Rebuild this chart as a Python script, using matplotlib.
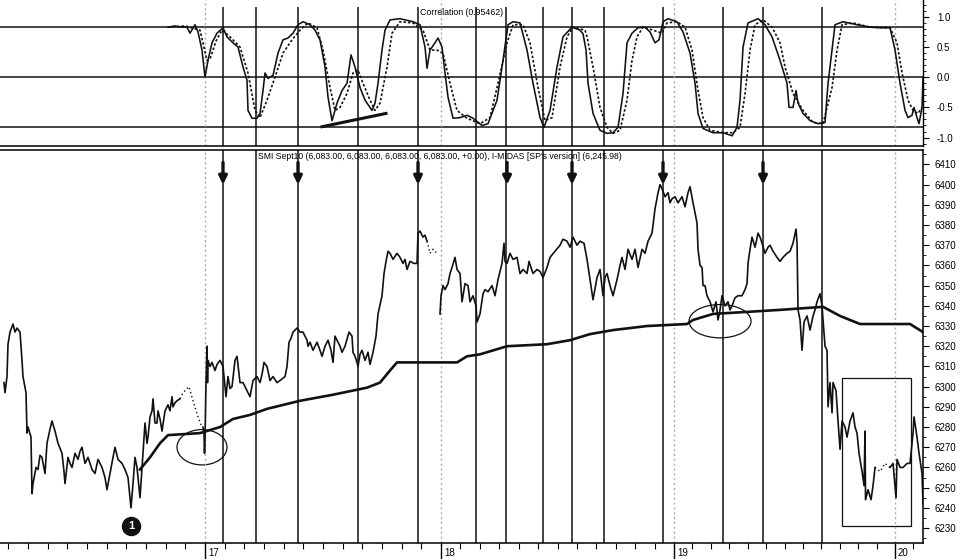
import numpy as np
import matplotlib.pyplot as plt
from matplotlib.patches import Ellipse
from matplotlib.ticker import MultipleLocator

plt.rcParams['font.family'] = ['Liberation Sans', 'DejaVu Sans']

# x = bar index (intraday)
day_pos = [205, 441, 674, 895]
day_labels = ['17', '18', '19', '20']
cycle_lines = [223, 256, 298, 358, 418, 476, 506, 543, 572, 604, 663, 723, 763, 822]
arrow_pos = [223, 298, 418, 507, 572, 663, 763]

# SMI Sept10 price (nan = gap in session)
price_t = [4, 5, 7, 8, 10, 13, 15, 17, 20, 22, 23, 26, 27, 28, 31, 32, 33, 36, 38, 40, 42, 45, 47, 50,
           52, 55, 58, 62, 64, 65, 68, 70, 72, 75, 78, 80, 82, 85, 88, 90, 92, 95, 98, 102, 105, 107,
           110, 113, 115, 118, 122, 125, 128, 131, 133, 135, 137, 140, 142, 144, 145, 147, 148, 150,
           152, 153, 155, 157, 158, 160, 162, 165, 168, 170, 172, 173, 175, 177, 180, np.nan,
           203, 204, 204.5, 205, 206, 207, 207.5, 208, 210, 212, 215, 217, 220, 223, 226, 228, 230,
           232, 235, 237, 240, 243, 245, 247, 250, 253, 257, 260, 262, 264, 267, 270, 273, 277, 280,
           285, 287, 289, 291, 293, 297, 300, 303, 305, 307, 308, 310, 313, 317, 320, 322, 325, 328,
           331, 333, 335, 338, 340, 342, 345, 349, 352, 353, 355, 357, 358, 360, 362, 365, 368, 370,
           373, 376, 378, 382, 384, 386, 388, 390, 393, 397, 400, 403, 405, 407, 410, 414, 417, 418,
           420, 423, 425, 427, np.nan,
           440, 441, 443, 445, 448, 450, 452, 455, 457, 460, 462, 465, 468, 470, 473, 476, 477, 480,
           483, 485, 488, 492, 495, 498, 502, 504, 505, 507, 510, 513, 517, 520, 523, 527, 529, 533,
           537, 540, 543, 547, 550, 555, 560, 563, 567, 570, 573, 577, 580, 584, 587, 590, 593, 597,
           600, 603, 605, 607, 610, 613, 617, 620, 622, 625, 628, 632, 635, 638, 642, 645, 648, 652,
           655, 658, 660, 662, 665, 668, 670, 672, 675, 678, 682, 685, 688, 690, 693, 697, 698, 700,
           702, 703, 705, 707, 710, 713, 716, 718, 720, 722, 725, 728, 730, 732, 735, 738, 742, 745,
           747, 748, 750, 752, 755, 758, 760, 762, 765, 768, 770, 773, 777, 780, 783, 787, 790, 793,
           796, 797, 798, 800, 802, 804, 807, 810, 813, 815, 817, 820, 822, 823, 825, 827, 828, 830,
           832, 833, 836, 838, 840, 842, 845, 847, 850, 853, 855, 857, 859, 862, 864, 865, 865.5, 866,
           868, 871, 873, 875, np.nan,
           890, 893, 896, 897, 900, 903, 907, 910, 913, 914, 917, 919, 922, 923]
price_v = [6302, 6297, 6305, 6321, 6327, 6331, 6327, 6329, 6327, 6313, 6305, 6297, 6277, 6280, 6275,
           6247, 6252, 6260, 6259, 6266, 6265, 6257, 6272, 6279, 6283, 6278, 6272, 6267, 6258, 6252,
           6265, 6262, 6260, 6267, 6264, 6268, 6270, 6262, 6265, 6262, 6259, 6257, 6264, 6260, 6255,
           6249, 6257, 6265, 6270, 6264, 6262, 6259, 6255, 6240, 6252, 6265, 6260, 6245, 6260, 6275,
           6282, 6272, 6275, 6285, 6288, 6294, 6282, 6282, 6288, 6284, 6278, 6288, 6291, 6288, 6295,
           6290, 6292, 6293, 6294, np.nan,
           6280, 6277, 6267, 6274, 6302, 6320, 6302, 6313, 6310, 6312, 6308, 6311, 6313, 6310, 6295,
           6305, 6299, 6300, 6313, 6315, 6302, 6302, 6300, 6298, 6295, 6303, 6305, 6302, 6306, 6312,
           6310, 6303, 6305, 6302, 6303, 6305, 6310, 6322, 6324, 6327, 6329, 6327, 6327, 6325, 6323,
           6320, 6322, 6318, 6322, 6318, 6315, 6320, 6323, 6318, 6312, 6325, 6322, 6320, 6317, 6320,
           6327, 6325, 6317, 6315, 6312, 6310, 6316, 6318, 6313, 6317, 6311, 6317, 6325, 6336, 6345,
           6356, 6362, 6367, 6366, 6363, 6366, 6364, 6361, 6363, 6358, 6362, 6361, 6361, 6376, 6377,
           6374, 6375, 6372, np.nan,
           6336, 6345, 6350, 6348, 6351, 6356, 6359, 6364, 6358, 6356, 6342, 6351, 6350, 6342, 6345,
           6340, 6332, 6336, 6346, 6348, 6347, 6350, 6345, 6353, 6361, 6371, 6362, 6361, 6366, 6363,
           6364, 6356, 6358, 6356, 6362, 6356, 6358, 6357, 6354, 6359, 6364, 6367, 6370, 6373, 6372,
           6369, 6374, 6370, 6372, 6371, 6363, 6353, 6343, 6354, 6358, 6345, 6354, 6356, 6350, 6345,
           6353, 6360, 6364, 6358, 6368, 6363, 6368, 6359, 6368, 6366, 6372, 6376, 6388, 6396, 6400,
           6398, 6394, 6396, 6391, 6393, 6394, 6391, 6394, 6389, 6396, 6399, 6391, 6381, 6368, 6360,
           6359, 6350, 6350, 6345, 6342, 6337, 6342, 6333, 6338, 6345, 6340, 6342, 6338, 6340, 6344,
           6345, 6345, 6348, 6351, 6361, 6368, 6374, 6369, 6376, 6374, 6371, 6366, 6369, 6370, 6367,
           6364, 6362, 6364, 6366, 6367, 6371, 6378, 6371, 6338, 6333, 6318, 6332, 6335, 6328, 6335,
           6338, 6342, 6346, 6340, 6333, 6320, 6318, 6290, 6302, 6287, 6302, 6298, 6283, 6269, 6283,
           6280, 6275, 6283, 6287, 6280, 6277, 6267, 6258, 6251, 6278, 6244, 6245, 6249, 6244, 6251,
           6260, np.nan,
           6260, 6262, 6245, 6264, 6260, 6260, 6262, 6262, 6277, 6285, 6275, 6267, 6257, 6242]

# thin dotted price stretches (no trades)
dot_t = [180, 183, 189, 193, 198, 202, np.nan, 427, 430, 433, 437, np.nan, 875, 880, 885, 890]
dot_v = [6294, 6297, 6300, 6293, 6285, 6280, np.nan, 6372, 6366, 6368, 6366, np.nan, 6260, 6258, 6262, 6260]

# I-MIDAS support line
midas_t = [140, 150, 160, 168, 200, 220, 233, 250, 267, 300, 333, 367, 380, 390, 397, 433, 457, 467,
           480, 507, 547, 570, 590, 613, 647, 687, 693, 713, 747, 780, 823, 840, 860, 910, 923]
midas_v = [6259, 6265, 6272, 6276, 6277, 6280, 6284, 6286, 6289, 6293, 6296, 6299.5, 6302, 6308, 6312,
           6312, 6312, 6315, 6316, 6320, 6321, 6323, 6326, 6328, 6330, 6331, 6333, 6336, 6337, 6338,
           6339.5, 6335, 6331, 6331, 6327]

# correlation, solid and dotted (lagged)
corr_t = [168, 175, 180, 187, 190, 195, 198, 202, 205, 208, 212, 217, 223, 227, 233, 238, 243, 247, 248,
          252, 257, 260, 263, 265, 268, 273, 278, 283, 288, 293, 298, 303, 310, 315, 320, 325, 328, 332,
          337, 342, 347, 351, 355, 360, 365, 372, 375, 378, 382, 385, 390, 400, 413, 420, 425, 427, 430,
          435, 438, 442, 445, 448, 453, 460, 467, 473, 482, 488, 497, 503, 508, 513, 520, 527, 533, 540,
          544, 550, 557, 563, 572, 580, 583, 586, 588, 593, 600, 607, 613, 618, 623, 627, 632, 638, 645,
          650, 655, 659, 663, 668, 677, 683, 690, 695, 698, 703, 713, 723, 732, 737, 740, 743, 748, 758,
          765, 772, 780, 787, 789, 793, 796, 798, 803, 810, 818, 825, 828, 832, 835, 843, 857, 870, 880,
          890, 895, 900, 905, 908, 912, 914, 917, 919, 922, 923]
corr_v = [0.83, 0.85, 0.83, 0.83, 0.73, 0.87, 0.75, 0.45, 0.0, 0.28, 0.57, 0.73, 0.82, 0.67, 0.57, 0.5,
          0.17, -0.05, -0.55, -0.68, -0.68, -0.6, -0.22, 0.07, -0.02, 0.03, 0.4, 0.62, 0.65, 0.73, 0.87,
          0.92, 0.87, 0.78, 0.62, 0.17, -0.33, -0.72, -0.43, -0.22, -0.1, 0.37, 0.17, -0.17, -0.38, -0.55,
          -0.43, -0.1, 0.45, 0.78, 0.95, 0.97, 0.92, 0.87, 0.5, 0.15, 0.45, 0.57, 0.65, 0.5, 0.07, -0.33,
          -0.68, -0.67, -0.63, -0.68, -0.8, -0.77, -0.38, 0.28, 0.87, 0.92, 0.9, 0.45, -0.1, -0.67, -0.83,
          -0.55, 0.17, 0.67, 0.83, 0.78, 0.72, 0.45, -0.1, -0.6, -0.88, -0.93, -0.92, -0.83, -0.27, 0.57,
          0.73, 0.82, 0.83, 0.75, 0.57, 0.62, 0.92, 0.97, 0.92, 0.75, 0.4, -0.1, -0.6, -0.85, -0.92, -0.92,
          -0.97, -0.83, -0.38, 0.5, 0.9, 0.97, 0.87, 0.67, 0.28, -0.1, -0.5, -0.5, -0.22, -0.43, -0.6,
          -0.72, -0.77, -0.75, -0.1, 0.45, 0.87, 0.92, 0.87, 0.83, 0.82, 0.82, 0.45, -0.1, -0.55, -0.67,
          -0.63, -0.5, -0.67, -0.77, -0.5, 0.0]
lag_t = [168, 185, 200, 207, 210, 216, 222, 230, 240, 248, 255, 260, 267, 275, 283, 292, 300, 308, 317,
         323, 330, 335, 340, 347, 353, 358, 363, 370, 375, 380, 387, 392, 400, 413, 423, 430, 437, 443,
         450, 457, 467, 480, 490, 498, 507, 513, 523, 530, 538, 545, 552, 560, 567, 573, 585, 587, 593,
         600, 607, 613, 620, 627, 632, 637, 643, 653, 662, 667, 677, 685, 692, 698, 703, 710, 723, 733,
         740, 745, 750, 755, 763, 772, 780, 785, 793, 803, 813, 823, 832, 837, 842, 853, 870, 890, 897,
         902, 908, 913, 918, 922]
lag_v = [0.83, 0.85, 0.78, 0.28, 0.3, 0.6, 0.78, 0.67, 0.5, 0.07, -0.55, -0.67, -0.38, 0.0, 0.4, 0.62,
         0.78, 0.9, 0.82, 0.45, -0.17, -0.55, -0.5, -0.27, 0.07, 0.12, -0.1, -0.38, -0.55, -0.43, 0.17,
         0.73, 0.92, 0.9, 0.78, 0.45, 0.45, 0.4, -0.1, -0.55, -0.68, -0.77, -0.67, -0.1, 0.57, 0.87, 0.87,
         0.57, -0.17, -0.72, -0.67, 0.17, 0.67, 0.83, 0.78, 0.67, 0.17, -0.5, -0.83, -0.93, -0.88, -0.38,
         0.28, 0.67, 0.83, 0.78, 0.73, 0.9, 0.92, 0.83, 0.45, -0.22, -0.67, -0.88, -0.92, -0.92, -0.83,
         -0.27, 0.45, 0.87, 0.95, 0.83, 0.57, 0.17, -0.27, -0.55, -0.75, -0.77, -0.17, 0.45, 0.87, 0.9,
         0.83, 0.82, 0.57, 0.07, -0.38, -0.55, -0.6, -0.5]

ink = '#111111'

fig = plt.figure(figsize=(9.63, 5.59), dpi=100)
ax_c = fig.add_axes([0.0, 0.7388, 0.9585, 0.2612])
ax_p = fig.add_axes([0.0, 0.02862, 0.9585, 0.70218])

# ---- correlation panel ----
for lvl in [0.83, 0.0, -0.82]:
    ax_c.axhline(lvl, color=ink, lw=1.1)
for d in day_pos:
    ax_c.axvline(d, color='#aaaaaa', lw=1.0, ls=(0, (1.5, 2)))
ax_c.vlines(cycle_lines, -1.17, 1.17, color=ink, lw=1.1)
ax_c.plot(lag_t, lag_v, color=ink, lw=1.2, ls=(0, (1.5, 1.2)))
ax_c.plot(corr_t, corr_v, color=ink, lw=1.15)
ax_c.plot([322, 386], [-0.82, -0.6], color=ink, lw=2.2)
ax_c.text(462, 1.07, 'Correlation (0.95462)', ha='center', va='center', fontsize=6.3)

ax_c.yaxis.tick_right()
ax_c.set_yticks([1.0, 0.5, 0.0, -0.5, -1.0])
ax_c.set_yticklabels(['1.0', '0.5', '0.0', '-0.5', '-1.0'])
ax_c.yaxis.set_minor_locator(MultipleLocator(0.1))
ax_c.tick_params(axis='y', which='major', length=4, labelsize=7, pad=6)
ax_c.tick_params(axis='y', which='minor', length=2)
ax_c.tick_params(axis='x', which='both', length=0, labelbottom=False)
for s in ['top', 'left']:
    ax_c.spines[s].set_visible(False)
ax_c.spines['bottom'].set_linewidth(1.1)
ax_c.spines['right'].set_linewidth(1.0)
ax_c.set_xlim(0, 923)
ax_c.set_ylim(-1.14, 1.28)

# ---- price panel ----
for d in day_pos:
    ax_p.axvline(d, color='#aaaaaa', lw=1.0, ls=(0, (1.5, 2)))
for x in cycle_lines:
    ax_p.axvline(x, color=ink, lw=1.1)
for x in arrow_pos:
    ax_p.annotate('', xy=(x, 6400), xytext=(x, 6411),
                  arrowprops=dict(arrowstyle='-|>', color=ink, lw=2.4, mutation_scale=12,
                                  shrinkA=0, shrinkB=0))

ax_p.plot(price_t, price_v, color=ink, lw=1.2)
ax_p.plot(dot_t, dot_v, color=ink, lw=1.0, ls=(0, (1, 2)))
ax_p.plot(midas_t, midas_v, color=ink, lw=1.9)

ax_p.add_patch(Ellipse((202, 6270), 50, 17.5, fill=False, ec=ink, lw=0.9))
ax_p.add_patch(Ellipse((720, 6332.4), 62, 16.5, fill=False, ec=ink, lw=0.9))
ax_p.add_patch(plt.Rectangle((842, 6231.0), 69, 73.4, fill=False, ec=ink, lw=0.9))
ax_p.plot([131], [6230.8], 'o', color=ink, ms=13)
ax_p.text(131, 6230.8, '1', color='white', fontsize=8, fontweight='bold', ha='center', va='center')

ax_p.text(258, 6414, "SMI Sept10 (6,083.00, 6,083.00, 6,083.00, 6,083.00, +0.00), "
          "I-MIDAS [SP's version] (6,245.98)", ha='left', va='center', fontsize=6.2)

ax_p.yaxis.tick_right()
ax_p.set_yticks(np.arange(6230, 6411, 10))
ax_p.yaxis.set_minor_locator(MultipleLocator(5))
ax_p.tick_params(axis='y', which='major', length=4, labelsize=7, pad=4)
ax_p.tick_params(axis='y', which='minor', length=2)

# day ticks and hourly minor ticks
bounds = [-31] + day_pos + [1116]
minor = np.concatenate([np.linspace(a, b, 13)[1:-1] for a, b in zip(bounds[:-1], bounds[1:])])
minor = minor[(minor > 0) & (minor < 923)]
ax_p.set_xticks(day_pos)
ax_p.set_xticklabels([])
ax_p.set_xticks(minor, minor=True)
ax_p.tick_params(axis='x', which='major', length=12, width=1.0)
ax_p.tick_params(axis='x', which='minor', length=4, width=0.8)

ax_p.spines['left'].set_visible(False)
for s in ['top', 'bottom', 'right']:
    ax_p.spines[s].set_linewidth(1.1)
ax_p.set_xlim(0, 923)
ax_p.set_ylim(6222.6, 6416.9)

for d, lab in zip(day_pos, day_labels):
    ax_p.text(d + 3, -0.013, lab, transform=ax_p.get_xaxis_transform(), ha='left', va='top', fontsize=7)

fig.savefig('out.png', dpi=100)
